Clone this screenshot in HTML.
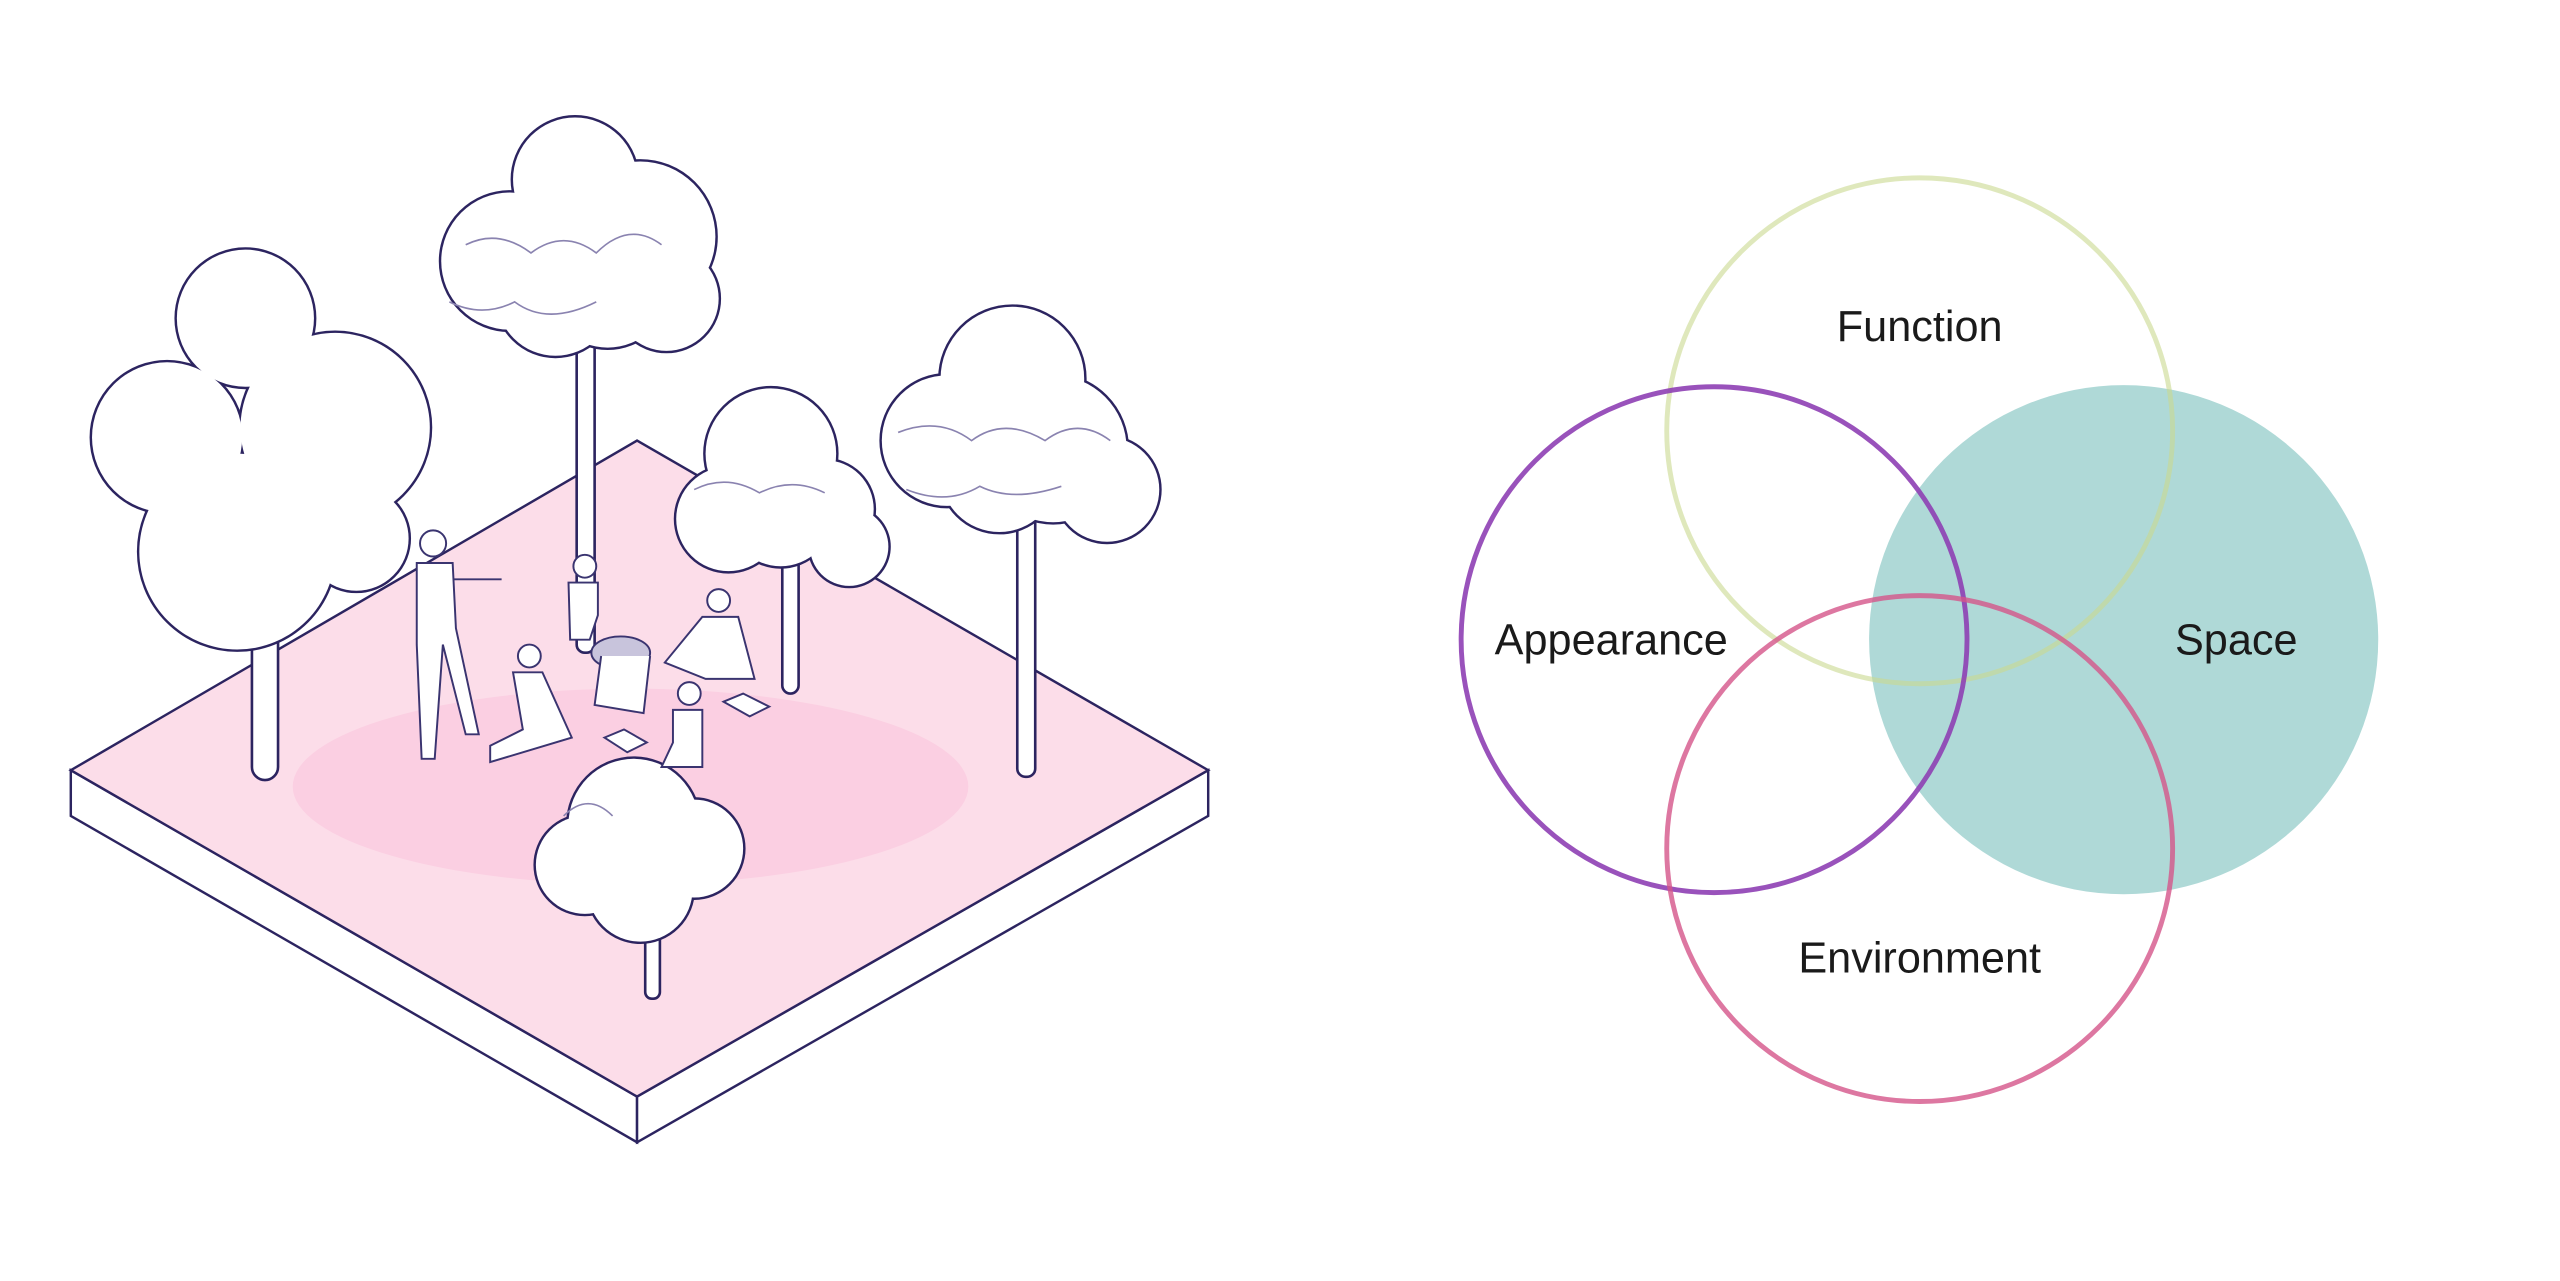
<!DOCTYPE html>
<html><head><meta charset="utf-8"><style>html,body{margin:0;padding:0;background:#fff;}svg{display:block}</style></head>
<body>
<svg width="2560" height="1281" viewBox="0 0 1568 785" xmlns="http://www.w3.org/2000/svg">
<defs>
<g id="t1">
 <circle cx="150" cy="195" r="42"/><circle cx="102" cy="268" r="46"/><circle cx="205" cy="262" r="58"/><circle cx="145" cy="338" r="60"/><circle cx="218" cy="330" r="32"/>
</g>
<g id="t2">
 <circle cx="352" cy="110" r="38"/><circle cx="312" cy="160" r="42"/><circle cx="392" cy="145" r="46"/><circle cx="408" cy="183" r="32"/><circle cx="340" cy="182" r="36"/><circle cx="372" cy="175" r="38"/>
</g>
<g id="t3">
 <circle cx="472" cy="278" r="40"/><circle cx="446" cy="318" r="32"/><circle cx="505" cy="312" r="30"/><circle cx="520" cy="335" r="24"/><circle cx="478" cy="315" r="32"/>
</g>
<g id="t4">
 <circle cx="620" cy="232" r="44"/><circle cx="580" cy="270" r="40"/><circle cx="678" cy="300" r="32"/><circle cx="645" cy="275" r="45"/><circle cx="612" cy="290" r="36"/>
</g>
<g id="t5">
 <circle cx="388" cy="505" r="40"/><circle cx="425" cy="520" r="30"/><circle cx="358" cy="530" r="30"/><circle cx="392" cy="545" r="32"/>
</g>
</defs>
<polygon points="43,472 390,672 390,700 43,500" fill="#fff" stroke="#2c2460" stroke-width="1.5"/>
<polygon points="390,672 740,472 740,500 390,700" fill="#fff" stroke="#2c2460" stroke-width="1.5"/>
<polygon points="390,270 740,472 390,672 43,472" fill="#fcdde9" stroke="#2c2460" stroke-width="1.5"/>
<ellipse cx="386" cy="482" rx="207" ry="60" fill="#fbcfe2"/>
<g fill="#fff" stroke="#2c2460" stroke-width="1.6">
<rect x="154" y="370" width="16" height="108" rx="8"/>
<rect x="353" y="190" width="11" height="210" rx="5"/>
<rect x="479" y="330" width="10" height="95" rx="5"/>
<rect x="623" y="300" width="11" height="176" rx="5"/>
<rect x="395" y="560" width="9" height="52" rx="4"/>
</g>
<g fill="#fff" stroke="#2c2460" stroke-width="3">
<use href="#t1"/><use href="#t2"/><use href="#t3"/><use href="#t4"/><use href="#t5"/>
</g>
<g fill="#fff" stroke="none">
<use href="#t1"/><use href="#t2"/><use href="#t3"/><use href="#t4"/><use href="#t5"/>
</g>
<g fill="none" stroke="#8a83b0" stroke-width="1">
<path d="M285 150 q20 -10 40 5 q20 -15 40 0 q20 -20 40 -5"/>
<path d="M275 185 q20 10 40 0 q20 15 50 0"/>
<path d="M550 265 q25 -10 45 5 q20 -15 45 0 q20 -15 40 0"/>
<path d="M555 300 q25 10 45 -2 q20 10 50 0"/>
<path d="M425 300 q20 -10 40 2 q20 -10 40 0"/>
<path d="M345 500 q15 -15 30 0"/>
</g>
<g fill="#fff" stroke="#3a3470" stroke-width="1.2">
<circle cx="265" cy="333" r="8"/><path d="M255 345 h22 l2 40 l14 65 h-8 l-14 -55 l-5 70 h-8 l-3 -70 z"/>
<path d="M277 355 l30 0"/>
<circle cx="358" cy="347" r="7"/><path d="M348 357 h18 v20 l-5 15 h-12 z"/>
<circle cx="440" cy="368" r="7"/><path d="M430 378 h22 l10 38 h-30 l-25 -10 z"/>
<circle cx="324" cy="402" r="7"/><path d="M314 412 h18 l18 40 l-50 15 v-10 l20 -10 z"/>
<circle cx="422" cy="425" r="7"/><path d="M412 435 h18 v35 h-25 l7 -15 z"/>
<ellipse cx="380" cy="400" rx="18" ry="10" fill="#c8c4dc"/>
<path d="M368 402 l-4 30 l30 5 l4 -35"/>
<path d="M443 430 l12 -5 l16 8 l-12 6 z"/><path d="M370 452 l12 -5 l14 8 l-12 6 z"/>
</g>
<circle cx="1301" cy="392" r="156" fill="#afd9d7"/>
<g fill="none" stroke-width="3">
<circle cx="1176" cy="264" r="155" stroke="#c9d98f" stroke-opacity="0.6"/>
<circle cx="1050" cy="392" r="155" stroke="#8e3fb4" stroke-opacity="0.9"/>
<circle cx="1176" cy="520" r="155" stroke="#d5558a" stroke-opacity="0.8"/>
</g>
<g font-family="Liberation Sans, sans-serif" font-size="26.5" fill="#1a1a1a" text-anchor="middle">
<text x="1176" y="209">Function</text>
<text x="987" y="401">Appearance</text>
<text x="1370" y="401">Space</text>
<text x="1176" y="596">Environment</text>
</g>
</svg>
</body></html>
